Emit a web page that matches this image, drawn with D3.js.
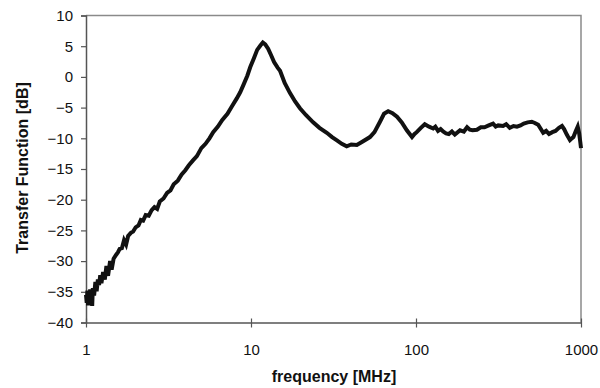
<!DOCTYPE html>
<html>
<head>
<meta charset="utf-8">
<script src="https://cdn.jsdelivr.net/npm/d3@7"></script>
<style>
    body { margin: 0; background: #fff; }
    text { font-family: "Liberation Sans", Arial, sans-serif; }
</style>
</head>
<body>
<svg class="chart"></svg>
<script>
// frequency in MHz, transfer function in dB
var freq = [1.00, 1.01, 1.02, 1.03, 1.04, 1.05, 1.06, 1.07, 1.08, 1.09, 1.10, 1.12, 1.14, 1.16, 1.18, 1.20,
    1.22, 1.24, 1.27, 1.30, 1.33, 1.36, 1.40, 1.43, 1.47, 1.52, 1.56, 1.60, 1.65, 1.70, 1.75, 1.80, 1.87,
    1.93, 2.00, 2.08, 2.15, 2.22, 2.30, 2.40, 2.50, 2.60, 2.70, 2.80, 2.95, 3.10, 3.25, 3.40, 3.60, 3.80,
    4.00, 4.20, 4.45, 4.70, 5.00, 5.30, 5.60, 5.90, 6.30, 6.70, 7.20, 7.70, 8.20, 8.60, 9.00, 9.50, 9.90,
    10.4, 10.9, 11.4, 11.8, 12.2, 12.7, 13.2, 13.8, 14.5, 15.0, 16.0, 17.2, 18.5, 19.8, 21.5, 23.8, 26.0,
    28.8, 31.0, 33.0, 35.5, 38.0, 40.5, 43.8, 47.0, 52.6, 56.0, 60.5, 64.0, 67.8, 72.0, 76.7, 82.0, 88.0,
    94.6, 98, 101, 107, 113, 120, 127, 131, 136, 141, 146, 152, 158, 165, 172, 185, 195, 204, 212, 220, 234,
    247, 260, 276, 293, 304, 315, 337, 352, 370, 390, 409, 430, 450, 475, 503, 525, 550, 590, 615, 640, 670,
    700, 735, 767, 790, 820, 857, 880, 900, 930, 955, 975, 990, 1000];
var gain = [-35.5, -36.8, -34.8, -37.2, -35.2, -36.0, -34.6, -36.8, -35.0, -37.3, -34.4, -35.6, -33.4, -34.9, -33.0, -33.9,
    -32.3, -33.6, -31.8, -33.0, -30.8, -32.4, -30.0, -31.4, -29.6, -29.0, -28.6, -28.0, -27.9, -26.6, -27.3, -25.9, -25.4,
    -25.2, -24.5, -24.2, -23.3, -23.4, -22.5, -22.6, -21.7, -21.2, -21.5, -20.3, -19.8, -18.9, -18.5, -17.5, -16.9, -15.9,
    -15.2, -14.4, -13.6, -12.9, -11.6, -10.9, -10.0, -9.0, -8.1, -7.0, -6.0, -4.7, -3.5, -2.5, -1.3, 0.2, 1.6,
    3.0, 4.4, 5.1, 5.6, 5.3, 4.6, 3.6, 2.4, 1.5, 1.0, -1.0, -2.6, -4.0, -5.1, -6.2, -7.4, -8.3,
    -9.1, -9.8, -10.3, -10.9, -11.3, -11.0, -11.1, -10.6, -9.8, -9.0, -7.3, -6.0, -5.6, -5.9, -6.5, -7.4, -8.7,
    -9.8, -9.3, -9.0, -8.3, -7.7, -8.1, -8.4, -8.1, -8.8, -8.5, -8.9, -9.2, -9.3, -8.9, -9.4, -8.7, -8.9, -8.2, -8.6, -8.7, -8.6,
    -8.2, -8.2, -7.9, -7.6, -8.1, -7.9, -8.0, -7.7, -8.3, -8.0, -8.1, -7.9, -7.6, -7.4, -7.3, -7.5, -7.8, -9.1, -8.8, -9.3, -9.0,
    -8.8, -8.3, -8.0, -8.5, -9.4, -10.3, -10.0, -9.8, -8.8, -8.1, -9.2, -10.6, -11.6];
var xTicks = [1, 10, 100, 1000];
var yTicks = [-40, -35, -30, -25, -20, -15, -10, -5, 0, 5, 10];

var width = 600,
    height = 388;
var plotLeft = 86, plotRight = 581, plotTop = 15.5, plotBottom = 322.5;

var svg = d3.select(".chart")
    .attr("width", width)
    .attr("height", height);

var x = d3.scaleLog().domain([1, 1000]).range([plotLeft, plotRight]);
var y = d3.scaleLinear().domain([-40, 10]).range([plotBottom, plotTop]);

//plot area border (top and right)
svg.append("path")
    .attr("d", "M" + plotLeft + "," + plotTop + "H" + plotRight + "V" + plotBottom)
    .attr("fill", "none")
    .attr("stroke", "#8a8a8a")
    .attr("stroke-width", 1.5);

//y axis
var yAxis = d3.axisLeft(y).tickValues(yTicks).tickSize(5).tickPadding(8);
var gy = svg.append("g").attr("transform", "translate(" + plotLeft + ",0)").call(yAxis);
gy.select(".domain").attr("stroke", "#555").attr("stroke-width", 1.5);
gy.selectAll(".tick line").attr("stroke", "#555").attr("stroke-width", 1.2);
gy.selectAll(".tick text").attr("font-size", 15).attr("fill", "#111");

//x axis, ticks cross the line
var xAxis = d3.axisBottom(x).tickValues(xTicks).tickFormat(d3.format("d")).tickSizeInner(5).tickSizeOuter(0).tickPadding(17);
var gx = svg.append("g").attr("transform", "translate(0," + plotBottom + ")").call(xAxis);
gx.select(".domain").attr("stroke", "#555").attr("stroke-width", 1.5);
gx.selectAll(".tick line").attr("stroke", "#555").attr("stroke-width", 1.2).attr("y1", -4);
gx.selectAll(".tick text").attr("font-size", 15).attr("fill", "#111");

//data line
var pts = freq.map(function(f, i) { return [f, gain[i]]; });
var line = d3.line()
    .x(function(d) { return x(d[0]); })
    .y(function(d) { return y(d[1]); });

svg.append("path")
    .datum(pts)
    .attr("d", line)
    .attr("fill", "none")
    .attr("stroke", "#111")
    .attr("stroke-width", 4)
    .attr("stroke-linejoin", "miter");

//axis titles
svg.append("text")
    .attr("x", 334)
    .attr("y", 382)
    .attr("text-anchor", "middle")
    .attr("font-size", 16)
    .attr("font-weight", "bold")
    .attr("fill", "#111")
    .text("frequency [MHz]");

svg.append("text")
    .attr("transform", "translate(28,168) rotate(-90)")
    .attr("text-anchor", "middle")
    .attr("font-size", 16)
    .attr("font-weight", "bold")
    .attr("fill", "#111")
    .text("Transfer Function [dB]");
</script>
</body>
</html>
